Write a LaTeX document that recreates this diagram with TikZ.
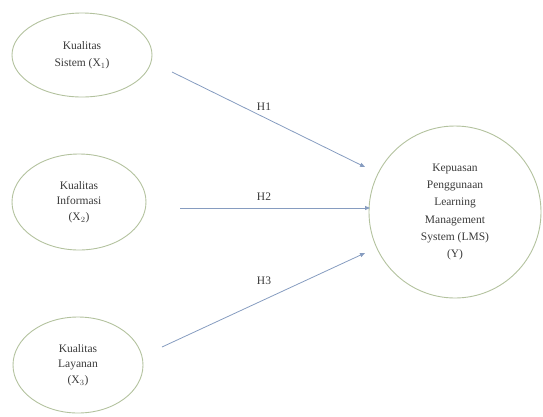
\documentclass[tikz,border=0pt]{standalone}
\usepackage{fontspec}
\setmainfont{Liberation Serif}
\usetikzlibrary{shapes.geometric,arrows.meta}
\definecolor{edgegreen}{HTML}{B3C29E}
\definecolor{arrowblue}{HTML}{869CC0}
\definecolor{txt}{HTML}{3A3A3A}
\begin{document}
\begin{tikzpicture}[x=1pt,y=-1pt,
  construct/.style={ellipse,draw=edgegreen,line width=0.9pt,inner sep=0pt,align=center,
    text=txt,font=\fontsize{11.5}{15.5}\selectfont},
  hyp/.style={draw=arrowblue,line width=0.8pt,-{Triangle[length=5pt,width=4pt]}},
  hlabel/.style={text=txt,font=\fontsize{11.5}{14}\selectfont}]
\useasboundingbox (0,0) rectangle (543,416);
\node[construct,minimum width=140pt,minimum height=84pt,font=\fontsize{11.5}{17}\selectfont] (x1) at (82,55) {Kualitas\\Sistem (X$_1$)};
\node[construct,minimum width=134pt,minimum height=96pt] (x2) at (79,202) {Kualitas\\Informasi\\(X$_2$)};
\node[construct,minimum width=130pt,minimum height=96pt] (x3) at (78,365) {Kualitas\\Layanan\\(X$_3$)};
\node[construct,circle,minimum size=172pt,font=\fontsize{11.5}{17.2}\selectfont] (y) at (455,212) {Kepuasan\\Penggunaan\\Learning\\Management\\System (LMS)\\(Y)};
\coordinate (s1) at (172,72);
\coordinate (e1) at (365,167);
\coordinate (s2) at (180,208);
\coordinate (e2) at (370,208);
\coordinate (s3) at (162,347);
\coordinate (e3) at (365,253);
\draw[hyp] (s1) -- (e1);
\draw[hyp] (s2) -- (e2);
\draw[hyp] (s3) -- (e3);
\node[hlabel] (h1) at (264,107) {H1};
\node[hlabel] (h2) at (264,197) {H2};
\node[hlabel] (h3) at (264,281) {H3};
\end{tikzpicture}
\end{document}
